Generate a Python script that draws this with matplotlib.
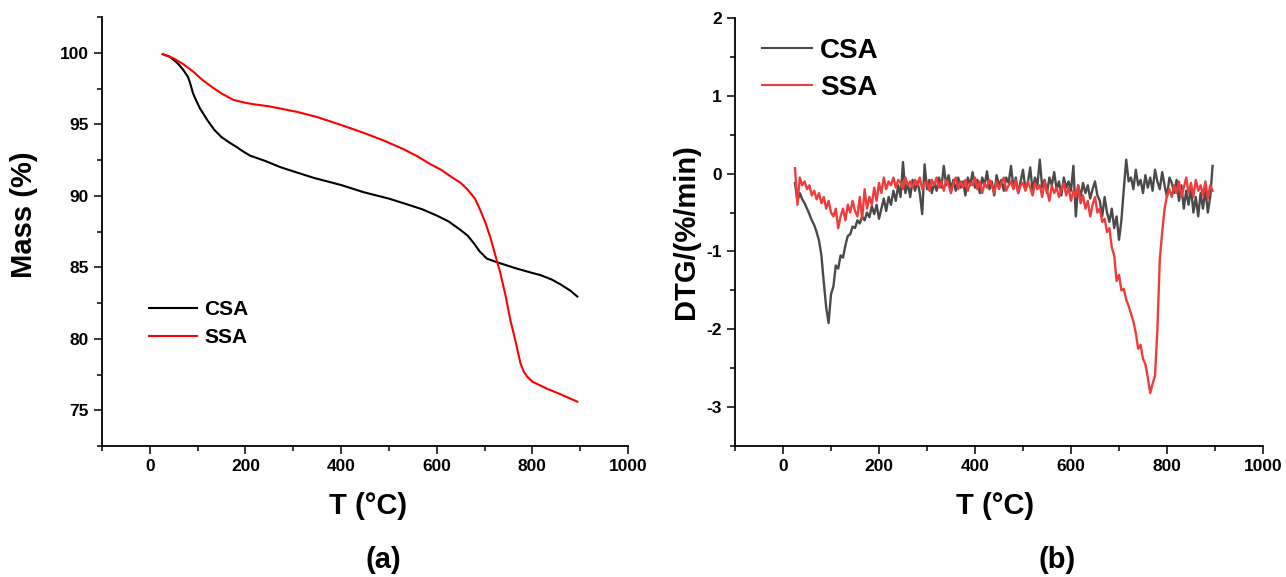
import numpy as np
import matplotlib
matplotlib.use("Agg")
import matplotlib.pyplot as plt
from matplotlib.ticker import MultipleLocator

plt.rcParams['font.family'] = ['Liberation Sans', 'DejaVu Sans']
plt.rcParams['font.weight'] = 'bold'

# ---------------- TGA data (panel a) ----------------
csa_T = [27, 40, 50, 60, 70, 80, 85, 90, 95, 105, 120, 135, 150, 165, 182, 195, 210, 240,
         273, 310, 343, 400, 447, 500, 538, 570, 601, 625, 650, 665, 677, 690, 705, 726,
         768, 800, 817, 840, 859, 880, 894]
csa_mass = [99.9, 99.75, 99.5, 99.2, 98.8, 98.3, 97.8, 97.2, 96.8, 96.1, 95.3, 94.6, 94.1,
            93.75, 93.4, 93.1, 92.8, 92.45, 92.0, 91.6, 91.25, 90.75, 90.25, 89.8, 89.4,
            89.05, 88.6, 88.2, 87.6, 87.2, 86.7, 86.1, 85.6, 85.35, 84.9, 84.6, 84.45,
            84.15, 83.8, 83.35, 82.95]

ssa_T = [27, 50, 70, 90, 110, 130, 150, 175, 200, 217, 250, 273, 310, 350, 400, 447, 490,
         531, 560, 587, 610, 629, 650, 664, 680, 691, 702, 712, 722, 733, 744, 754, 765,
         775, 782, 789, 800, 831, 860, 894]
ssa_mass = [99.9, 99.6, 99.2, 98.7, 98.1, 97.6, 97.15, 96.7, 96.5, 96.4, 96.25, 96.1, 95.85,
            95.5, 94.95, 94.4, 93.85, 93.25, 92.75, 92.2, 91.8, 91.35, 90.9, 90.45, 89.8,
            89.0, 88.1, 87.1, 85.9, 84.6, 83.0, 81.3, 79.8, 78.3, 77.7, 77.35, 77.0, 76.5,
            76.1, 75.6]

# ---------------- DTG data (panel b), T = 25..895 step 5 ----------------
dtg_T = list(range(25, 900, 5))
csa_dtg = [
    -0.12, -0.35, -0.25, -0.33, -0.38, -0.45, -0.52, -0.60, -0.66, -0.75,
    -0.86, -1.05, -1.40, -1.72, -1.92, -1.55, -1.45, -1.18, -1.22, -1.05,
    -1.08, -0.92, -0.80, -0.78, -0.68, -0.70, -0.60, -0.64, -0.55, -0.60,
    -0.50, -0.56, -0.42, -0.52, -0.40, -0.58, -0.45, -0.32, -0.48, -0.30,
    -0.40, -0.22, -0.35, -0.15, -0.30, 0.15, -0.25, -0.12, -0.30, -0.08,
    -0.22, -0.10, -0.25, -0.52, 0.12, -0.20, -0.08, -0.25, -0.12, -0.22,
    -0.05, -0.18, 0.10, -0.15, -0.02, -0.20, -0.08, -0.22, -0.05, -0.18,
    -0.10, -0.28, -0.05, -0.15, 0.02, -0.18, -0.08, -0.25, -0.05, -0.15,
    0.03, -0.20, -0.10, -0.28, -0.02, -0.15, -0.08, -0.22, -0.05, -0.12,
    0.10, -0.18, -0.05, -0.25, -0.10, 0.05, -0.20, -0.12, 0.08, -0.22,
    -0.05, -0.15, 0.18, -0.18, -0.08, -0.25, -0.05, -0.15, 0.02, -0.20,
    -0.10, -0.28, -0.05, -0.18, -0.10, -0.22, 0.10, -0.55, -0.15, -0.30,
    -0.12, -0.25, -0.15, -0.32, -0.20, -0.10, -0.28, -0.35, -0.55, -0.30,
    -0.50, -0.62, -0.45, -0.70, -0.55, -0.85, -0.60, -0.20, 0.18, -0.10,
    -0.05, -0.20, 0.05, -0.15, -0.08, -0.25, -0.02, -0.18, -0.05, -0.22,
    0.05, -0.10, -0.20, 0.02, -0.15, -0.30, -0.05, -0.12, -0.25, -0.08,
    -0.35, -0.15, -0.45, -0.22, -0.40, -0.18, -0.50, -0.30, -0.55, -0.25,
    -0.45, -0.20, -0.50, -0.30, 0.10,
]
ssa_dtg = [
    0.07, -0.40, -0.05, -0.15, -0.10, -0.20, -0.15, -0.28, -0.22, -0.33,
    -0.25, -0.38, -0.30, -0.45, -0.35, -0.50, -0.55, -0.45, -0.70, -0.55,
    -0.45, -0.60, -0.40, -0.50, -0.35, -0.48, -0.55, -0.30, -0.58, -0.20,
    -0.45, -0.30, -0.40, -0.18, -0.35, -0.12, -0.25, -0.05, -0.20, -0.10,
    -0.15, -0.05, -0.18, -0.08, -0.12, -0.20, -0.05, -0.15, -0.10, -0.18,
    -0.08, -0.15, -0.05, -0.20, -0.12, -0.10, -0.22, -0.08, -0.15, -0.05,
    -0.18, -0.10, -0.22, -0.08, -0.15, -0.25, -0.12, -0.05, -0.20, -0.10,
    -0.18, -0.08, -0.22, -0.12, -0.15, -0.05, -0.20, -0.10, -0.25, -0.12,
    -0.18, -0.08, -0.15, -0.25, -0.10, -0.20, -0.12, -0.05, -0.22, -0.15,
    -0.10, -0.20, -0.08, -0.25, -0.15, -0.12, -0.22, -0.10, -0.18, -0.28,
    -0.12, -0.20, -0.15, -0.30, -0.10, -0.22, -0.35, -0.15, -0.25, -0.18,
    -0.30, -0.20, -0.12, -0.28, -0.18, -0.35, -0.22, -0.30, -0.15, -0.38,
    -0.28, -0.45, -0.35, -0.55, -0.40, -0.30, -0.50, -0.45, -0.62, -0.58,
    -0.75, -0.70, -0.95, -1.05, -1.38, -1.30, -1.50, -1.48, -1.62, -1.70,
    -1.80, -1.90, -2.05, -2.25, -2.20, -2.38, -2.45, -2.62, -2.82, -2.70,
    -2.60, -2.00, -1.10, -0.75, -0.45, -0.28, -0.20, -0.30, -0.15, -0.25,
    -0.10, -0.30, -0.18, -0.05, -0.25, -0.12, -0.30, -0.08, -0.22, -0.15,
    -0.28, -0.10, -0.32, -0.15, -0.22,
]

labels = ['CSA', 'SSA']
x_ticks = [0, 200, 400, 600, 800, 1000]

W, H = 1286, 577
fig = plt.figure(figsize=(W / 100, H / 100), dpi=100)

def frac_box(l, r, t, b):
    return [l / W, 1 - b / H, (r - l) / W, (b - t) / H]

axA = fig.add_axes(frac_box(102, 628, 17, 446))
axB = fig.add_axes(frac_box(735, 1263, 18, 446))

def style(ax):
    for s in ['top', 'right']:
        ax.spines[s].set_visible(False)
    for s in ['left', 'bottom']:
        ax.spines[s].set_linewidth(1.3)
    ax.tick_params(which='major', direction='out', length=5.5, width=1.1,
                   labelsize=12.5, pad=4)
    ax.tick_params(which='minor', direction='out', length=3.5, width=1.1)
    ax.xaxis.set_major_locator(MultipleLocator(200))
    ax.xaxis.set_minor_locator(MultipleLocator(100))
    ax.set_xlim(-100, 1000)

# Panel a
axA.plot(csa_T, csa_mass, color='black', lw=1.5, label=labels[0])
axA.plot(ssa_T, ssa_mass, color='#ff0000', lw=1.5, label=labels[1])
axA.set_ylim(72.5, 102.5)
axA.yaxis.set_major_locator(MultipleLocator(5))
axA.yaxis.set_minor_locator(MultipleLocator(2.5))
style(axA)
axA.set_yticks([75, 80, 85, 90, 95, 100])
axA.set_yticklabels(['75', '80', '85', '90', '95', '100'], fontweight='bold')
axA.legend(loc='center left', bbox_to_anchor=(0.089, 0.285), frameon=False,
           prop={'size': 15, 'weight': 'bold'}, handlelength=2.3,
           handletextpad=0.35, labelspacing=0.45, borderpad=0, borderaxespad=0)

# Panel b
axB.plot(dtg_T, csa_dtg, color='#4a4a4a', lw=1.7, label=labels[0])
axB.plot(dtg_T, ssa_dtg, color='#f03c3c', lw=1.7, label=labels[1])
axB.set_ylim(-3.5, 2.0)
axB.yaxis.set_major_locator(MultipleLocator(1))
axB.yaxis.set_minor_locator(MultipleLocator(0.5))
style(axB)
axB.set_yticks([-3, -2, -1, 0, 1, 2])
axB.set_yticklabels(['-3', '-2', '-1', '0', '1', '2'], fontweight='bold')
leg = axB.legend(loc='center left', bbox_to_anchor=(0.051, 0.88), frameon=False,
                 prop={'size': 20, 'weight': 'bold'}, handlelength=1.8,
                 handletextpad=0.3, labelspacing=0.38, borderpad=0, borderaxespad=0)
for line in leg.get_lines():
    line.set_linewidth(1.5)

for ax in (axA, axB):
    ax.set_xticks(x_ticks)
    ax.set_xticklabels([str(v) for v in x_ticks], fontweight='bold')

def ftext(x, y, s, size=21, rot=0):
    fig.text(x / W, 1 - y / H, s, fontsize=size, fontweight='bold',
             ha='center', va='center', rotation=rot)

ftext(24, 215, 'Mass (%)', rot=90)
ftext(368, 506, 'T (°C)')
ftext(383, 560, '(a)')
ftext(686, 232, 'DTG/(%/min)', rot=90)
ftext(995, 506, 'T (°C)')
ftext(1057, 560, '(b)')

fig.savefig('out.png', dpi=100)
